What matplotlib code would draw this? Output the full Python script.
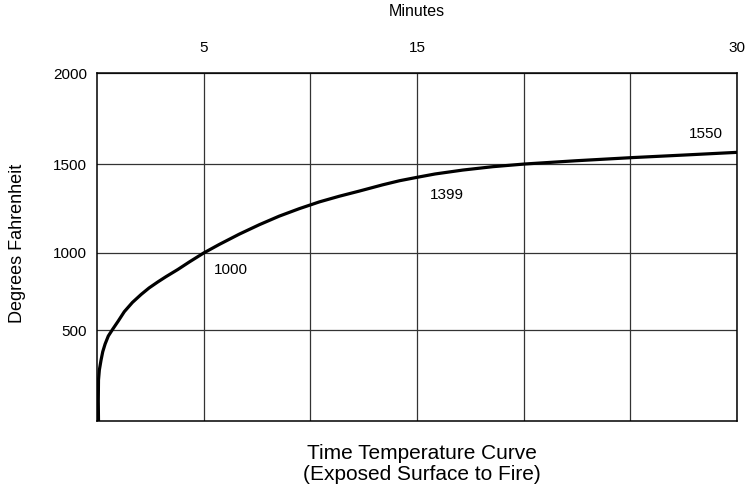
import numpy as np
import matplotlib
matplotlib.use('Agg')
import matplotlib.pyplot as plt

plt.rcParams['font.family'] = ['Liberation Sans', 'DejaVu Sans']

# time-temperature curve
minutes = [0.07, 0.06, 0.07, 0.11, 0.19, 0.27, 0.38, 0.53, 0.74, 0.99,
           1.28, 1.66, 2.07, 2.44, 2.85, 3.23, 3.79, 4.33, 5.0, 5.73,
           6.67, 7.61, 8.54, 9.48, 10.42, 11.36, 12.30, 13.39, 14.18, 15.04,
           15.85, 17.15, 18.56, 20.05, 22.47, 25.06, 27.48, 30.0]
degrees = [0, 110, 225, 280, 335, 381, 423, 467, 506, 557,
           619, 679, 731, 773, 812, 846, 893, 942, 1000, 1048,
           1106, 1159, 1207, 1249, 1287, 1319, 1348, 1383, 1406, 1426,
           1444, 1466, 1485, 1500, 1518, 1535, 1549, 1564]

x_grid = [5, 10, 15, 20, 25, 30]
x_labels = ['5', '', '15', '', '', '30']
y_ticks = [500, 1000, 1500, 2000]

marks = [(5.49, 890, '1000'), (15.59, 1326, '1399'), (27.76, 1666, '1550')]

# the original grid is not evenly spaced on the temperature axis
y_vals = [0, 500, 1000, 1500, 2000]
y_pos = [0, 91, 168, 257, 348]


def fwd(v):
    return np.interp(v, y_vals, y_pos)


def inv(p):
    return np.interp(p, y_pos, y_vals)


fig = plt.figure(figsize=(7.52, 4.98), dpi=100)
ax = fig.add_axes([97 / 752, 1 - 421 / 498, 640 / 752, 348 / 498])
ax.set_yscale('function', functions=(fwd, inv))

ax.plot(minutes, degrees, color='black', lw=2.3, solid_joinstyle='round',
        solid_capstyle='butt', zorder=3)

ax.set_xlim(0, 30)
ax.set_ylim(0, 2000)

ax.xaxis.tick_top()
ax.set_xticks(x_grid)
ax.set_xticklabels(x_labels)
ax.set_yticks(y_ticks)
ax.set_yticklabels([str(v) for v in y_ticks])
ax.yaxis.set_minor_locator(plt.NullLocator())
ax.tick_params(axis='x', length=0, pad=13, labelsize=11)
ax.tick_params(axis='y', length=0, pad=7, labelsize=11)

ax.grid(True, color='#333333', lw=0.9)
for s in ax.spines.values():
    s.set_linewidth(1.1)
    s.set_color('black')

for t, v, txt in marks:
    ax.text(t, v, txt, fontsize=11, ha='left', va='center')

fig.text(417 / 752, 1 - 12 / 498, 'Minutes', fontsize=11.5, ha='center', va='center')
fig.text(18 / 752, 1 - 243 / 498, 'Degrees Fahrenheit', fontsize=13,
         rotation=90, ha='center', va='center')
fig.text(422 / 752, 1 - 464 / 498, 'Time Temperature Curve\n(Exposed Surface to Fire)',
         fontsize=15, ha='center', va='center', linespacing=1.1)

fig.savefig('out.png', dpi=100)
